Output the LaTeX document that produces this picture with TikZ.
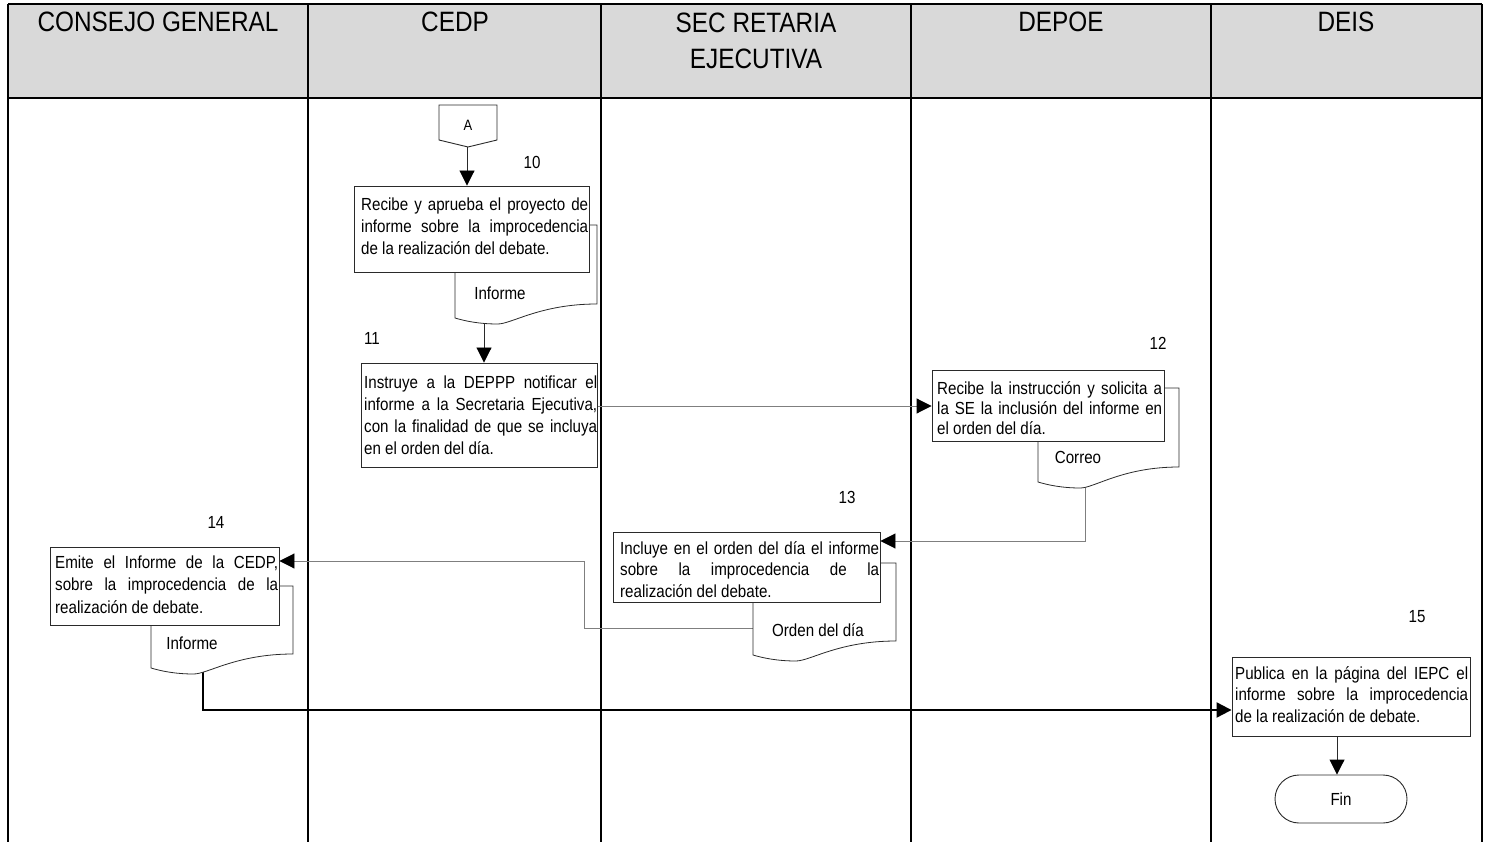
\documentclass[tikz,border=0pt]{standalone}
\usepackage{fontspec}
\setmainfont{Liberation Sans}
\newfontfamily\nf[FakeStretch=0.87]{Liberation Sans}
\newfontfamily\bodyfam[FakeStretch=0.865]{Liberation Sans}
\usetikzlibrary{arrows.meta}
\definecolor{hdr}{HTML}{D9D9D9}
\definecolor{conn}{HTML}{7F7F7F}
\definecolor{frm}{HTML}{2A2A2A}
\newcommand\bfnt[1]{\bodyfam\fontsize{17.5}{#1}\selectfont\tolerance=10000 \hyphenpenalty=10000 }
\newcommand\firststrut{\rule{0pt}{18pt}}
\newcommand\hstrut{\rule{0pt}{24pt}}
\pgfdeclarelayer{bg}
\pgfdeclarelayer{conl}
\pgfdeclarelayer{docl}
\pgfsetlayers{bg,conl,docl,main}
\newcommand\docshape[5]{% L R T yL yR
  \pgfmathsetmacro\dW{#2-#1}
  \draw[docst] (#1,#3) -- (#2,#3) -- (#2,#5)
    .. controls ({#1+0.6*\dW},#5) and ({#1+0.4*\dW},{#4+6}) .. ({#1+0.3*\dW},{#4+6})
    .. controls ({#1+0.17*\dW},{#4+6}) and ({#1+0.07*\dW},{#4+3}) .. (#1,#4) -- cycle;}
\begin{document}
\begin{tikzpicture}[x=1pt,y=-1pt,
  lane/.style={line width=1.2pt, draw=black},
  boxn/.style={draw=frm, line width=0.9pt, fill=white, inner sep=0pt},
  btext/.style 2 args={inner sep=0pt, anchor=north west, align=justify, text width=#1, font=\bfnt{#2}},
  docst/.style={draw=frm, line width=0.8pt, fill=white},
  lbl/.style={inner sep=0pt, font=\bodyfam\fontsize{17.5}{22}\selectfont},
  hd/.style={inner sep=0pt, font=\nf\fontsize{28}{36}\selectfont, align=center},
  conline/.style={draw=conn, line width=0.9pt},
  tip/.style={-{Triangle[length=15pt,width=15pt,color=black]}},
  thickcon/.style={draw=black, line width=2.2pt}]
\useasboundingbox (0,0) rectangle (1489,842);

% header and lanes
\begin{pgfonlayer}{bg}
  \fill[hdr] (8,4) rectangle (1482,98);
  \draw[line width=2pt] (8,4) -- (1482,4);
  \draw[line width=1.5pt] (8,98) -- (1482,98);
  \foreach \xx in {8,308,601,911,1211,1482} \draw[lane] (\xx,4) -- (\xx,842);
\end{pgfonlayer}
\node[hd, anchor=base] (h1) at (158,32) {CONSEJO GENERAL};
\node[hd, anchor=base] (h2) at (455,32) {CEDP};
\node[hd, anchor=north] (h3) at (756,8) {\hstrut SEC RETARIA\\EJECUTIVA};
\node[hd, anchor=base] (h4) at (1061,32) {DEPOE};
\node[hd, anchor=base] (h5) at (1346,32) {DEIS};

% off-page connector A
\draw[frm, line width=0.9pt, fill=white] (439,105) -- (497,105) -- (497,140) -- (468,147) -- (439,140) -- cycle;
\node[lbl, font=\bodyfam\fontsize{15}{18}\selectfont] (A) at (468,125) {A};
\coordinate (Abot) at (467,147);

% boxes
\node[boxn, minimum width=235pt, minimum height=86pt] (b10) at (471.5,229) {};
\node[boxn, minimum width=236pt, minimum height=104pt] (b11) at (479,415) {};
\node[boxn, minimum width=232pt, minimum height=71pt] (b12) at (1048,406) {};
\node[boxn, minimum width=267pt, minimum height=70pt] (b13) at (746.5,567) {};
\node[boxn, minimum width=229pt, minimum height=78pt] (b14) at (164.5,586) {};
\node[boxn, minimum width=238pt, minimum height=79pt] (b15) at (1351,696.5) {};
\node[boxn, rounded corners=24pt, minimum width=132pt, minimum height=48pt, font=\bodyfam\fontsize{17.5}{22}\selectfont] (fin) at (1341,799) {Fin};

% box texts
\node[btext={227pt}{22pt}] (t10) at (361,192) {\firststrut Recibe y aprueba el proyecto de\linebreak informe sobre la improcedencia\linebreak de la realización del debate.};
\node[btext={233pt}{22pt}] (t11) at (364,370) {\firststrut Instruye a la DEPPP notificar el\linebreak informe a la Secretaria Ejecutiva,\linebreak con la finalidad de que se incluya\linebreak en el orden del día.};
\node[btext={225pt}{20pt}] (t12) at (937,376) {\firststrut Recibe la instrucción y solicita a\linebreak la SE la inclusión del informe en\linebreak el orden del día.};
\node[btext={259pt}{21.5pt}] (t13) at (620,536) {\firststrut Incluye en el orden del día el informe\linebreak sobre la improcedencia de la\linebreak realización del debate.};
\node[btext={223pt}{22.5pt}] (t14) at (55,550) {\firststrut Emite el Informe de la CEDP,\linebreak sobre la improcedencia de la\linebreak realización de debate.};
\node[btext={233pt}{21.5pt}] (t15) at (1235,661) {\firststrut Publica en la página del IEPC el\linebreak informe sobre la improcedencia\linebreak de la realización de debate.};

% documents
\begin{pgfonlayer}{docl}
  \docshape{455}{597}{225}{318}{304}
  \docshape{1038}{1179}{388}{482}{467}
  \docshape{753}{896}{563}{655}{641}
  \docshape{151}{293}{586}{668}{654}
\end{pgfonlayer}
\node[lbl] (d10) at (500,293) {Informe};
\node[lbl] (d12) at (1078,457) {Correo};
\node[lbl] (d13) at (818,630) {Orden del día};
\node[lbl] (d14) at (192,643) {Informe};
\coordinate (d10c) at (484,315);
\coordinate (d12c) at (1085,478);
\coordinate (d13w) at (753,628);
\coordinate (d14c) at (203,665);

% step numbers
\node[lbl] (n10) at (532,162) {10};
\node[lbl] (n11) at (372,338) {11};
\node[lbl] (n12) at (1158,343) {12};
\node[lbl] (n13) at (847,497) {13};
\node[lbl] (n14) at (216,522) {14};
\node[lbl] (n15) at (1417,617) {15};

% connectors
\begin{pgfonlayer}{conl}
  \draw[conline, draw=frm, tip] (Abot) -- (Abot |- b10.north);
  \draw[conline, draw=frm, tip] (d10c) -- (d10c |- b11.north);
  \draw[conline, tip] (b11.east |- b12.west) -- (b12.west);
  \draw[conline, tip] (d12c) |- ([yshift=26pt]b13.east);
  \draw[conline, tip] (d13w) -- ++(-169,0) |- ([yshift=25pt]b14.east);
  \draw[thickcon, tip] (d14c) |- ([yshift=-13.5pt]b15.west);
  \draw[conline, draw=frm, tip] ([xshift=-4pt]fin.north |- b15.south) -- ([xshift=-4pt]fin.north);
\end{pgfonlayer}
\end{tikzpicture}
\end{document}
